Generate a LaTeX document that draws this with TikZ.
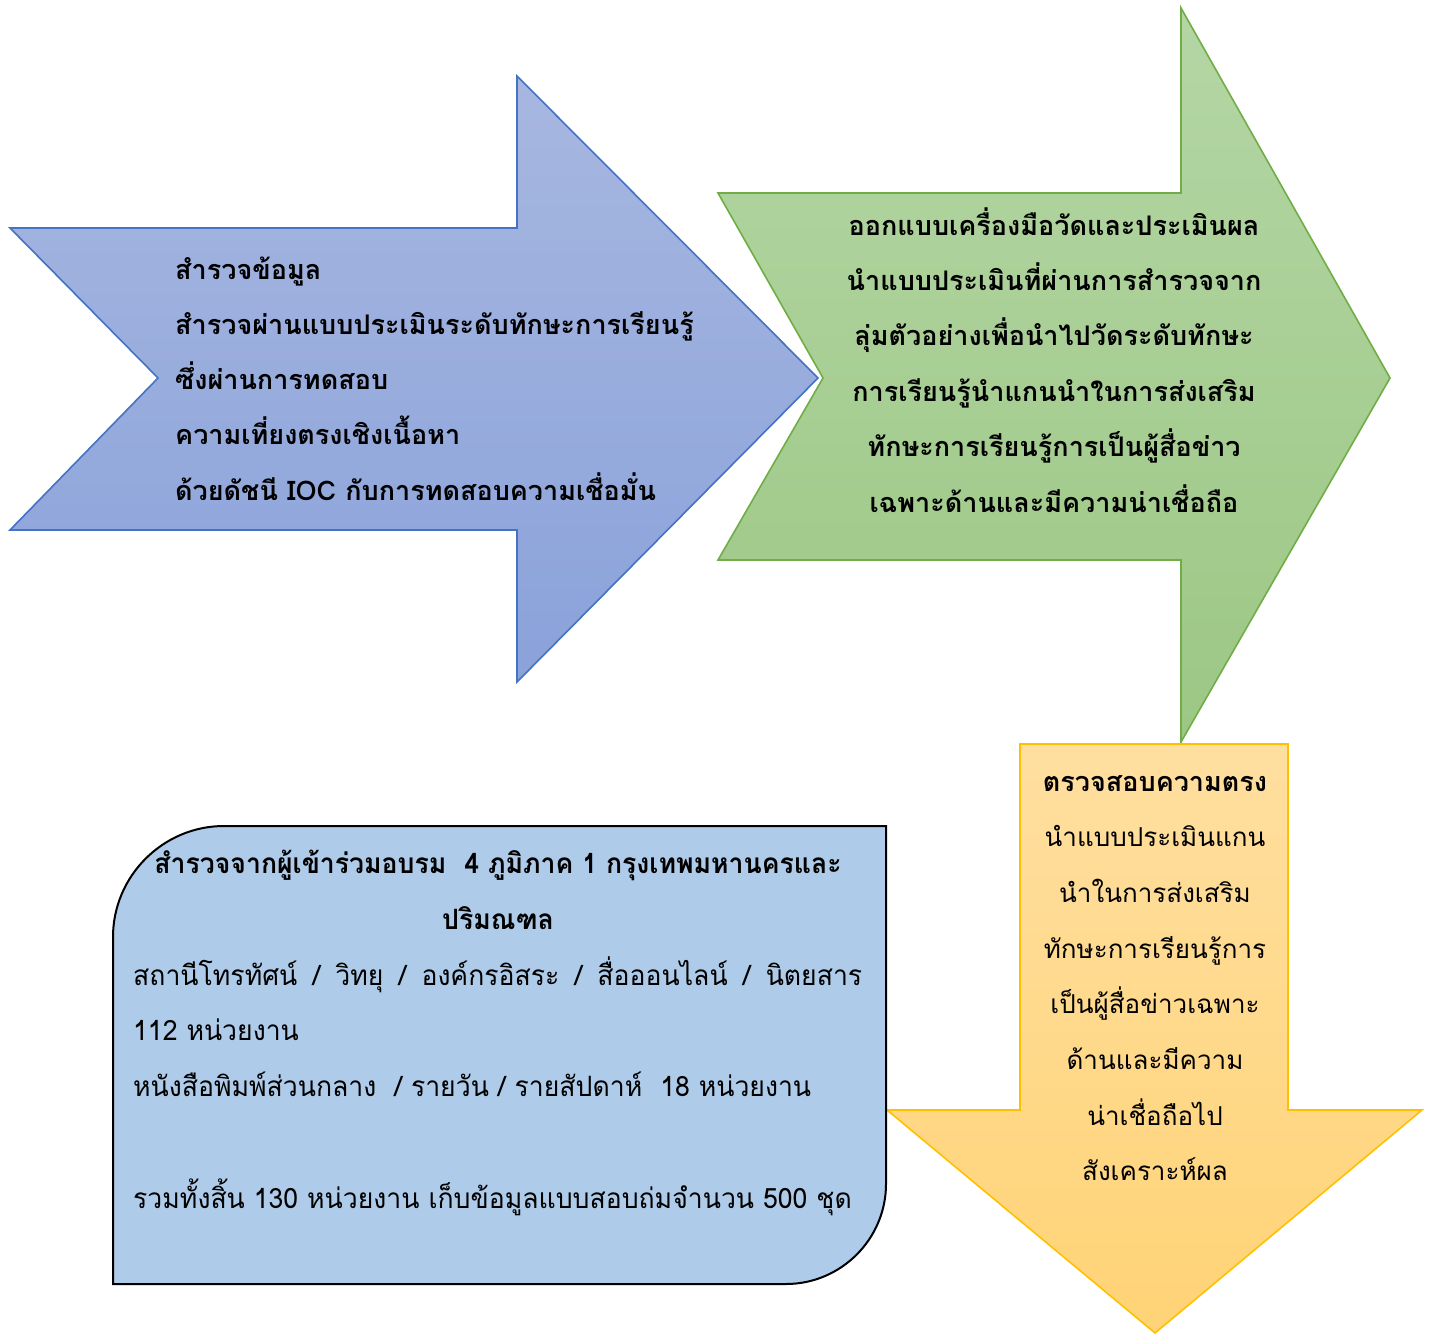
\documentclass[tikz,border=0pt]{standalone}
\usepackage{fontspec}
\newfontfamily\thaifont[Script=Thai]{Loma}
\newfontfamily\thaicond[Script=Thai,FakeStretch=0.95]{Loma}
\definecolor{bluetop}{HTML}{A7B7E0}
\definecolor{bluebot}{HTML}{8AA2DA}
\definecolor{bluedraw}{HTML}{4472C4}
\definecolor{greentop}{HTML}{B4D6A5}
\definecolor{greenbot}{HTML}{9CC784}
\definecolor{greendraw}{HTML}{70AD47}
\definecolor{orangetop}{HTML}{FFDFA0}
\definecolor{orangebot}{HTML}{FFD376}
\definecolor{orangedraw}{HTML}{FFC000}
\definecolor{boxfill}{HTML}{AECBE9}
\tikzset{
  arrowshape/.style={line width=1.6pt, line join=miter},
  boldtxt/.style={inner sep=0pt, font=\thaifont\bfseries\fontsize{27}{32}\selectfont},
  regtxt/.style={inner sep=0pt, font=\thaifont\fontsize{26}{32}\selectfont},
  boxbold/.style={inner sep=0pt, font=\thaicond\bfseries\fontsize{28}{32}\selectfont},
  boxreg/.style={inner sep=0pt, font=\thaicond\fontsize{28}{32}\selectfont},
}
\begin{document}
\begin{tikzpicture}[x=1pt,y=-1pt]
\useasboundingbox (0,0) rectangle (1431,1335);
% blue arrow
\path[arrowshape, draw=bluedraw, top color=bluetop, bottom color=bluebot]
  (10,228) -- (517,228) -- (517,76) -- (818,378) -- (517,682) -- (517,530)
  -- (10,530) -- (158,378) -- cycle;
% green arrow
\path[arrowshape, draw=greendraw, top color=greentop, bottom color=greenbot]
  (718,193) -- (1181,193) -- (1181,8) -- (1390,378) -- (1181,742) -- (1181,560)
  -- (718,560) -- (823,378) -- cycle;
% orange arrow
\path[arrowshape, draw=orangedraw, top color=orangetop, bottom color=orangebot]
  (1020,744) -- (1288,744) -- (1288,1110) -- (1422,1110) -- (1155,1333)
  -- (887,1110) -- (1020,1110) -- cycle;
% box
\path[draw=black, line width=2pt, fill=boxfill]
  (113,1284) -- (113,937) .. controls (113,876) and (163,826) .. (224,826)
  -- (886,826) -- (886,1184) .. controls (886,1239) and (841,1284) .. (786,1284)
  -- cycle;
% blue text
\foreach \t [count=\i] in {สำรวจข้อมูล,สำรวจผ่านแบบประเมินระดับทักษะการเรียนรู้,ซึ่งผ่านการทดสอบ,ความเที่ยงตรงเชิงเนื้อหา,ด้วยดัชนี IOC กับการทดสอบความเชื่อมั่น}
  \node[boldtxt, anchor=base west] (b\i) at (175,{279+55.3*(\i-1)}) {\t};
% green text
\foreach \t [count=\i] in {ออกแบบเครื่องมือวัดและประเมินผล,นำแบบประเมินที่ผ่านการสำรวจจาก,ลุ่มตัวอย่างเพื่อนำไปวัดระดับทักษะ,การเรียนรู้นำแกนนำในการส่งเสริม,ทักษะการเรียนรู้การเป็นผู้สื่อข่าว,เฉพาะด้านและมีความน่าเชื่อถือ}
  \node[boldtxt, anchor=base] (g\i) at (1054,{235+55.4*(\i-1)}) {\t};
% orange text
\node[boldtxt, anchor=base] (o1) at (1155,791) {ตรวจสอบความตรง};
\foreach \t [count=\i from 2] in {นำแบบประเมินแกน,นำในการส่งเสริม,ทักษะการเรียนรู้การ,เป็นผู้สื่อข่าวเฉพาะ,ด้านและมีความ,น่าเชื่อถือไป,สังเคราะห์ผล}
  \node[regtxt, anchor=base] (o\i) at (1155,{791+55.7*(\i-1)}) {\t};
% box text
\node[boxbold, anchor=base] (t1) at (498,873) {สำรวจจากผู้เข้าร่วมอบรม\ \ 4 ภูมิภาค 1 กรุงเทพมหานครและ};
\node[boxbold, anchor=base] (t2) at (498,929) {ปริมณฑล};
\node[boxreg, anchor=base west] (t3) at (133,985) {\makebox[729pt][s]{สถานีโทรทัศน์ / วิทยุ / องค์กรอิสระ / สื่อออนไลน์ / นิตยสาร}};
\node[boxreg, anchor=base west] (t4) at (133,1040) {112 หน่วยงาน};
\node[boxreg, anchor=base west] (t5) at (133,1096) {หนังสือพิมพ์ส่วนกลาง\ \ / รายวัน / รายสัปดาห์\ \ 18 หน่วยงาน};
\node[boxreg, anchor=base west] (t6) at (133,1208) {รวมทั้งสิ้น 130 หน่วยงาน เก็บข้อมูลแบบสอบถ่มจำนวน 500 ชุด};
\end{tikzpicture}
\end{document}
